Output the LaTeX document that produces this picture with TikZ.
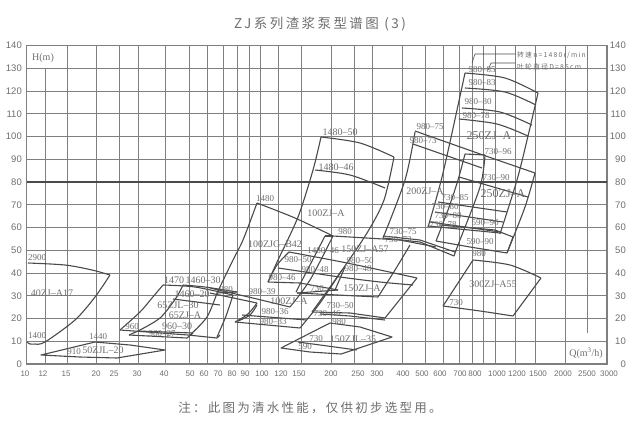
\documentclass[tikz,border=0pt]{standalone}
\usepackage{fontspec}
\setmainfont{Liberation Serif}
\setsansfont{Liberation Sans}
\newfontfamily\cjk[LetterSpace=18]{Noto Sans CJK SC}
\definecolor{gridc}{HTML}{7F7F7F}
\definecolor{pumpc}{HTML}{4A4A4A}
\definecolor{textc}{HTML}{6E6E6E}
\tikzset{
	gridline/.style={gridc, line width=1pt},
	pumpline/.style={pumpc, line width=1.1pt, line join=round},
	heightlabel/.style={textc, inner sep=0pt, anchor=east, font=\sffamily\fontsize{9.5}{10}\selectfont},
	flowlabel/.style={textc, inner sep=0pt, font=\sffamily\fontsize{8}{8}\selectfont},
	smalllabel/.style={textc, inner sep=0pt, font=\fontsize{9}{9}\selectfont},
	biglabel/.style={textc, inner sep=0pt, font=\fontsize{10}{10}\selectfont},
	hugelabel/.style={textc, inner sep=0pt, font=\fontsize{12}{12}\selectfont},
}

\begin{document}
\begin{tikzpicture}[x=1pt, y=-1pt]
	\useasboundingbox (0, 0) rectangle (636, 429);

	% grid
	\foreach \h in {10, 20, ..., 130}
		\draw[gridline] (26.5, {364-2.275*\h}) -- (607, {364-2.275*\h});
	\foreach \q in {67.7, 96, 119, 138, 165, 189.7, 207.7, 223.7, 237, 249.7, 260.3, 278.3, 301.7, 331, 354.3, 372.3, 402.3, 425, 443.7, 459.7, 472.3, 483.7, 495, 515, 535.7, 565.7}
		\draw[gridline] (\q, 45.5) -- (\q, 364);
	\draw[gridline] (45.7, 68.25) -- (45.7, 364);
	\draw[gridline] (587.7, 45.5) -- (587.7, 333);
	\draw[gridc, line width=1.3pt] (26.5, 45.5) rectangle (607, 364);
	\draw[pumpc, line width=1.2pt] (26.5, 182) -- (607, 182);

	% axis numbers
	\foreach \h in {0, 10, ..., 140} {
		\node[heightlabel] (left\h) at (22, {364-2.275*\h}) {\h};
		\node[heightlabel] (right\h) at (626, {364-2.275*\h}) {\h};
	}
	\foreach \px/\q in {25/10, 43/12, 66/15, 96/20, 114/25, 137/30, 164/40, 190/50, 204/60, 218/70, 232/80, 245/90, 262/100, 281/120, 299/150, 331/200, 358/250, 377/300, 403/400, 422/500, 440/600, 460/700, 475/800, 497/1000, 517/1200, 538/1500, 563/2000, 587/2500, 609/3000}
		\node[flowlabel] (bottom\q) at (\px, 374) {\q};

	% 40ZJ-A17
	\draw[pumpline] plot[smooth] coordinates {(28, 263) (65, 265) (92, 270) (110, 275)};
	\draw[pumpline] plot[smooth] coordinates {(110, 275) (95, 297) (75, 320) (45, 342) (35, 344)};
	\draw[pumpline] plot[smooth] coordinates {(35, 344) (30, 344) (27, 342)};

	% 50ZJL-20
	\draw[pumpline] (41, 355) -- (95, 342) -- (130, 345) -- (165, 350) -- (117, 358) -- (80, 357) -- cycle;

	% 65ZJ
	\draw[pumpline] plot[smooth] coordinates {(120, 330) (140, 312) (152, 298) (163, 285)};
	\draw[pumpline] plot[smooth] coordinates {(163, 285) (195, 287) (233, 295)};
	\draw[pumpline] plot[smooth] coordinates {(233, 295) (226, 316) (217, 337)};
	\draw[pumpline] plot[smooth] coordinates {(138, 331) (160, 318) (176, 298) (183, 285)};
	\draw[pumpline] plot[smooth] coordinates {(183, 285) (205, 287) (237, 292)};
	\draw[pumpline] plot[smooth] coordinates {(190, 335) (207, 317) (217, 293)};
	\draw[pumpline] (120, 330) -- (188, 335) -- (217, 338) -- (220, 335);
	\draw[pumpline] (138, 331) -- (193, 333);
	\draw[pumpline] (129, 335) -- (138, 331);
	\draw[pumpline] (129, 335) -- (187, 338) -- (193, 333);
	\draw[pumpline] (173, 299) -- (220, 305);

	% 100ZJG
	\draw[pumpline] plot[smooth] coordinates {(257, 203) (243, 240) (233, 260) (217, 293)};
	\draw[pumpline] plot[smooth] coordinates {(257, 203) (295, 218) (333, 236)};
	\draw[pumpline] (210, 288) -- (257, 299) -- (290, 307);
	\draw[pumpline] (210, 293) -- (257, 303);
	\draw[pumpline] (217, 293) -- (237, 292);
	\draw[pumpline] plot[smooth] coordinates {(257, 303) (248, 314) (235, 322)};
	\draw[pumpline] plot[smooth] coordinates {(257, 305) (250, 315) (238, 321)};

	% 100ZJ-A
	\draw[pumpline] (242, 315) -- (307, 320);
	\draw[pumpline] (235, 322) -- (300, 328);
	\draw[pumpline] plot[smooth] coordinates {(290, 307) (310, 280) (333, 236)};
	\draw[pumpline] (325, 236) -- (296, 292);
	\draw[pumpline] (333, 236) -- (325, 236);
	\draw[pumpline] plot[smooth] coordinates {(300, 328) (320, 303) (342, 270)};
	\draw[pumpline] (297, 293) -- (338, 290);

	% 1480
	\draw[pumpline] plot[smooth] coordinates {(321, 137) (313, 170) (298, 217) (278, 260) (268, 282)};
	\draw[pumpline] plot[smooth] coordinates {(321, 137) (360, 143) (394, 157)};
	\draw[pumpline] plot[smooth] coordinates {(394, 157) (384, 200) (367, 233) (340, 273) (312, 312)};
	\draw[pumpline] plot[smooth] coordinates {(315, 170) (350, 175) (385, 188)};

	% 150ZJ-A
	\draw[pumpline] plot[smooth] coordinates {(268, 282) (277, 265) (289, 252)};
	\draw[pumpline] plot[smooth] coordinates {(289, 252) (347, 263) (417, 278)};
	\draw[pumpline] (417, 278) -- (385, 318);
	\draw[pumpline] plot[smooth] coordinates {(278, 268) (340, 277) (380, 282) (413, 285)};
	\draw[pumpline] (268, 282) -- (300, 283) -- (338, 290);
	\draw[pumpline] (297, 293) -- (378, 297);
	\draw[pumpline] (333, 236) -- (400, 240) -- (436, 247);
	\draw[pumpline] (345, 267) -- (335, 290);

	% 730-50
	\draw[pumpline] (312, 312) -- (350, 313) -- (385, 318);
	\draw[pumpline] (320, 314) -- (350, 316) -- (385, 320);

	% 150ZJL-35
	\draw[pumpline] (281, 348) -- (330, 323) -- (360, 327) -- (392, 337) -- (341, 354) -- (310, 352) -- cycle;
	\draw[pumpline] (298, 342) -- (357, 350);

	% 200ZJ
	\draw[pumpline] plot[smooth] coordinates {(415, 132) (405, 180) (383, 238)};
	\draw[pumpline] plot[smooth] coordinates {(415, 131) (483, 155) (535, 173)};
	\draw[pumpline] (413, 144) -- (482, 168);
	\draw[pumpline] plot[smooth] coordinates {(485, 155) (480, 187) (458, 245) (454, 256)};
	\draw[pumpline] plot[smooth] coordinates {(410, 245) (395, 270) (378, 297)};
	\draw[pumpline] (383, 236) -- (420, 240) -- (455, 252);
	\draw[pumpline] (383, 238) -- (420, 242) -- (454, 256);

	% 250ZJ-A
	\draw[pumpline] plot[smooth] coordinates {(465, 73) (443, 173) (428, 227)};
	\draw[pumpline] plot[smooth] coordinates {(465, 73) (505, 78) (538, 93)};
	\draw[pumpline] plot[smooth] coordinates {(538, 93) (528, 136) (517, 180) (500, 234)};
	\draw[pumpline] plot[smooth] coordinates {(465, 88) (505, 92) (536, 105)};
	\draw[pumpline] plot[smooth] coordinates {(462, 108) (500, 112) (532, 125)};
	\draw[pumpline] plot[smooth] coordinates {(459, 119) (497, 124) (528, 136)};
	\draw[pumpline] (438, 202) -- (507, 212);
	\draw[pumpline] (435, 212) -- (503, 222);
	\draw[pumpline] (430, 222) -- (500, 232);
	\draw[pumpline] (428, 226) -- (500, 233);

	% 250ZJ
	\draw[pumpline] (465, 154) -- (485, 155);
	\draw[pumpline] plot[smooth] coordinates {(465, 154) (458, 180) (448, 210) (436, 241)};
	\draw[pumpline] (459, 177) -- (528, 197);
	\draw[pumpline] plot[smooth] coordinates {(535, 173) (525, 207) (507, 253)};
	\draw[pumpline] (440, 225) -- (495, 230) -- (513, 237) -- (507, 253);
	\draw[pumpline] (436, 241) -- (470, 247) -- (507, 253);

	% 300ZJ-A55
	\draw[pumpline] plot[smooth] coordinates {(443, 306) (473, 260)};
	\draw[pumpline] plot[smooth] coordinates {(473, 260) (510, 265) (541, 278)};
	\draw[pumpline] (541, 278) -- (513, 316);
	\draw[pumpline] plot[smooth] coordinates {(513, 316) (480, 311) (443, 306)};

	% speed note
	\coordinate (speedEnd) at (515, 54);
	\coordinate (sizeEnd) at (515, 63);
	\draw[pumpc, line width=0.6pt] (472, 63) -- (475, 54) -- (speedEnd);
	\draw[pumpc, line width=0.6pt] (488, 70) -- (491, 63) -- (sizeEnd);
	\node[textc, anchor=west, inner sep=0pt, font=\cjk\fontsize{6.8}{7}\selectfont] (speedNote) at (517, 55) {转速n=1480r/min};
	\node[textc, anchor=west, inner sep=0pt, font=\cjk\fontsize{6.8}{7}\selectfont] (sizeNote) at (517, 67) {叶轮直径D=85cm};

	% pump labels
	\foreach \px/\py/\txt [count=\n] in {
		37/258/2900, 37/336/1400, 98/337/1440, 74/352/910,
		132/327/960, 162/334/960--27, 265/199/1480,
		345/232/980, 323/251/1480--46, 298/260/980--50, 360/261/980--50, 358/269/980--48,
		315/270/980--48, 282/278/980--46, 317/289/730, 262/292/980--39, 226/290/980,
		340/306/730--50, 327/314/730--46, 275/312/980--36, 273/322/980--33, 339/322/980,
		316/339/730, 305/347/590, 430/127/980--75, 423/141/980--73, 482/70/980--85,
		482/83/980--83, 478/102/980--80, 476/116/980--78, 498/152/730--96, 496/178/730--90,
		455/198/730--85, 445/207/730--80, 448/216/730--80, 443/225/730--78, 485/223/590--96,
		480/242/590--90, 479/254/980, 403/232/730--75, 398/240/730--73, 456/303/730}
		\node[smalllabel] (small\n) at (\px, \py) {\txt};
	\foreach \px/\py/\txt [count=\n] in {
		52/293/40ZJ--A17, 174/280/1470, 203/280/1460--30, 192/294/1460--20, 178/305/65ZJL--30,
		340/132/1480--50, 336/167/1480--46,
		103/350/50ZJL--20, 185/315/65ZJ--A, 177/326/960--30, 326/213/100ZJ--A,
		275/244/100ZJG--B42, 365/249/150ZJ--A57, 362/288/150ZJ--A, 289/301/100ZJ--A,
		353/339/150ZJL--35, 425/191/200ZJ--A, 493/284/300ZJ--A55}
		\node[biglabel] (big\n) at (\px, \py) {\txt};
	\node[hugelabel] (hugeTop) at (489, 136) {250ZJ--A};
	\node[hugelabel] (hugeLow) at (503, 194) {250ZJ--A};

	% captions
	\node[textc, inner sep=0pt, font=\fontsize{10}{10}\selectfont] (hAxis) at (43, 58) {H(m)};
	\node[textc, inner sep=0pt, font=\fontsize{10}{10}\selectfont] (qAxis) at (586, 353) {Q(m\textsuperscript{3}/h)};
	\node[textc, inner sep=0pt, font=\cjk\fontsize{13.5}{14}\selectfont] (title) at (320, 24) {ZJ系列渣浆泵型谱图 (3)};
	\node[textc, inner sep=0pt, font=\cjk\fontsize{12.5}{13}\selectfont] (note) at (310, 408) {注：此图为清水性能，仅供初步选型用。};
\end{tikzpicture}
\end{document}
